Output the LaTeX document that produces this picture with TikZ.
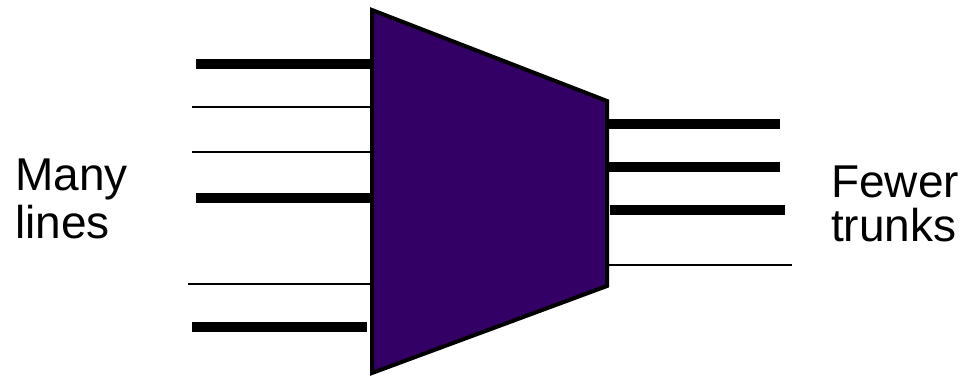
\documentclass[tikz,border=0pt]{standalone}
\usepackage{fontspec}
\setmainfont{Liberation Sans}
\definecolor{muxfill}{HTML}{330066}
\begin{document}
\begin{tikzpicture}[x=1pt,y=-1pt,
  thickline/.style={line width=10pt},
  thinline/.style={line width=2.6pt},
  lbl/.style={font=\fontsize{46}{48}\selectfont, align=left, inner sep=0pt, anchor=base west}]
\useasboundingbox (0,0) rectangle (970,378);
% connectors (drawn first, under the multiplexer)
\draw[thickline] (196,64) -- (375,64);
\draw[thinline]  (192,107) -- (375,107);
\draw[thinline]  (192,152) -- (375,152);
\draw[thickline] (196,197.5) -- (375,197.5);
\draw[thinline]  (188,284) -- (375,284);
\draw[thickline] (192,327) -- (367,327);
\draw[thickline] (604,124) -- (780,124);
\draw[thickline] (604,167) -- (780,167);
\draw[thickline] (610,210) -- (785,210);
\draw[thinline]  (604,265) -- (792,265);
% multiplexer
\draw[fill=muxfill, line width=4pt, line join=miter]
  (372,10) -- (607,101) -- (607,286) -- (372,373) -- cycle;
% labels
\node[lbl] (many) at (15,238) {Many\\lines};
\node[lbl] (fewer) at (831,241) {Fewer\\[-4pt]trunks};
\end{tikzpicture}
\end{document}
